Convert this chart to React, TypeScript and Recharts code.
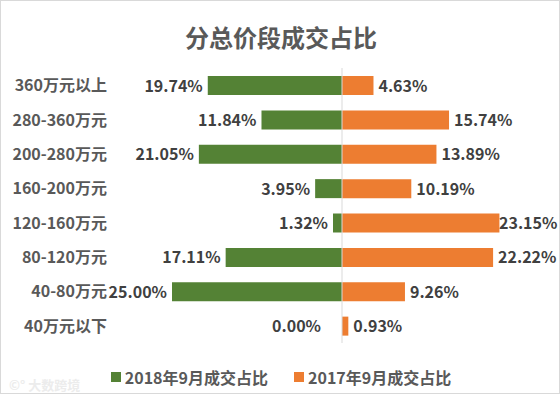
import { BarChart, Bar, XAxis, YAxis, ReferenceLine, LabelList } from "recharts"

const categories = ["360万元以上", "280-360万元", "200-280万元", "160-200万元", "120-160万元", "80-120万元", "40-80万元", "40万元以下"]
const share2018 = [19.74, 11.84, 21.05, 3.95, 1.32, 17.11, 25.0, 0.0]
const share2017 = [4.63, 15.74, 13.89, 10.19, 23.15, 22.22, 9.26, 0.93]
const seriesNames = ["2018年9月成交占比", "2017年9月成交占比"]

const GREEN = "#548235"
const ORANGE = "#ed7d31"
const FONT = "'Noto Sans CJK SC', 'Noto Sans', sans-serif"

// 2018 drawn to the left as negative values
const data = categories.map((name, i) => ({
  name,
  y2018: -share2018[i],
  y2017: share2017[i],
}))

const CategoryTick = (props: any) => {
  const { y, payload } = props
  return (
    <text x={107} y={y} dy={6} textAnchor="end" fontSize={16} fontWeight="bold" fill="#595959" fontFamily={FONT}>
      {payload.value}
    </text>
  )
}

const LeftLabel = (props: any) => {
  const { x, y, width, height, value } = props
  if (!value) return null
  const left = Math.min(x, x + width)
  return (
    <text x={left - 5} y={y + height / 2} dy={6} textAnchor="end" fontSize={16} fontWeight="bold" fill="#404040" fontFamily={FONT}>
      {Math.abs(value).toFixed(2)}%
    </text>
  )
}

const RightLabel = (props: any) => {
  const { x, y, width, height, value, index } = props
  const right = Math.max(x, x + width)
  const left = Math.min(x, x + width)
  return (
    <g>
      <text x={Math.min(right + 5, 499)} y={y + height / 2} dy={6} textAnchor="start" fontSize={16} fontWeight="bold" fill="#404040" fontFamily={FONT}>
        {Number(value).toFixed(2)}%
      </text>
      {share2018[index] === 0 && (
        <text x={left - 21} y={y + height / 2} dy={6} textAnchor="end" fontSize={16} fontWeight="bold" fill="#404040" fontFamily={FONT}>
          {share2018[index].toFixed(2)}%
        </text>
      )}
    </g>
  )
}

export default function App() {
  return (
    <div style={{ position: "absolute", left: 0, top: 0, width: 560, height: 394, background: "#fff", border: "1px solid #d9d9d9", boxSizing: "border-box", fontFamily: FONT }}>
      <div style={{ position: "absolute", top: 19, left: 0, width: 560, textAlign: "center", fontSize: 24, fontWeight: "bold", color: "#595959", lineHeight: "34px" }}>
        分总价段成交占比
      </div>
      <div style={{ position: "absolute", left: -1, top: -1 }}>
        <BarChart width={560} height={394} data={data} layout="vertical" stackOffset="sign" barSize={19} margin={{ top: 68, right: 48, bottom: 51, left: 0 }}>
          <XAxis type="number" domain={[-25, 25]} hide />
          <YAxis type="category" dataKey="name" width={172} axisLine={false} tickLine={false} tick={<CategoryTick />} />
          <Bar dataKey="y2018" stackId="a" fill={GREEN} isAnimationActive={false}>
            <LabelList dataKey="y2018" content={<LeftLabel />} />
          </Bar>
          <Bar dataKey="y2017" stackId="a" fill={ORANGE} isAnimationActive={false}>
            <LabelList dataKey="y2017" content={<RightLabel />} />
          </Bar>
          <ReferenceLine x={0} stroke="#d9d9d9" />
        </BarChart>
      </div>
      <div style={{ position: "absolute", top: 364, left: 0, width: 560, display: "flex", justifyContent: "center", gap: 26, fontSize: 16, fontWeight: "bold", color: "#595959", lineHeight: "24px" }}>
        {seriesNames.map((n, i) => (
          <div key={n} style={{ display: "flex", alignItems: "center" }}>
            <span style={{ display: "inline-block", width: 10, height: 10, background: i === 0 ? GREEN : ORANGE, marginRight: 4 }} />
            {n}
          </div>
        ))}
      </div>
      <div style={{ position: "absolute", left: 8, top: 374, fontSize: 13, color: "#ececec", fontWeight: "bold" }}>
        ©° 大数跨境
      </div>
    </div>
  )
}
